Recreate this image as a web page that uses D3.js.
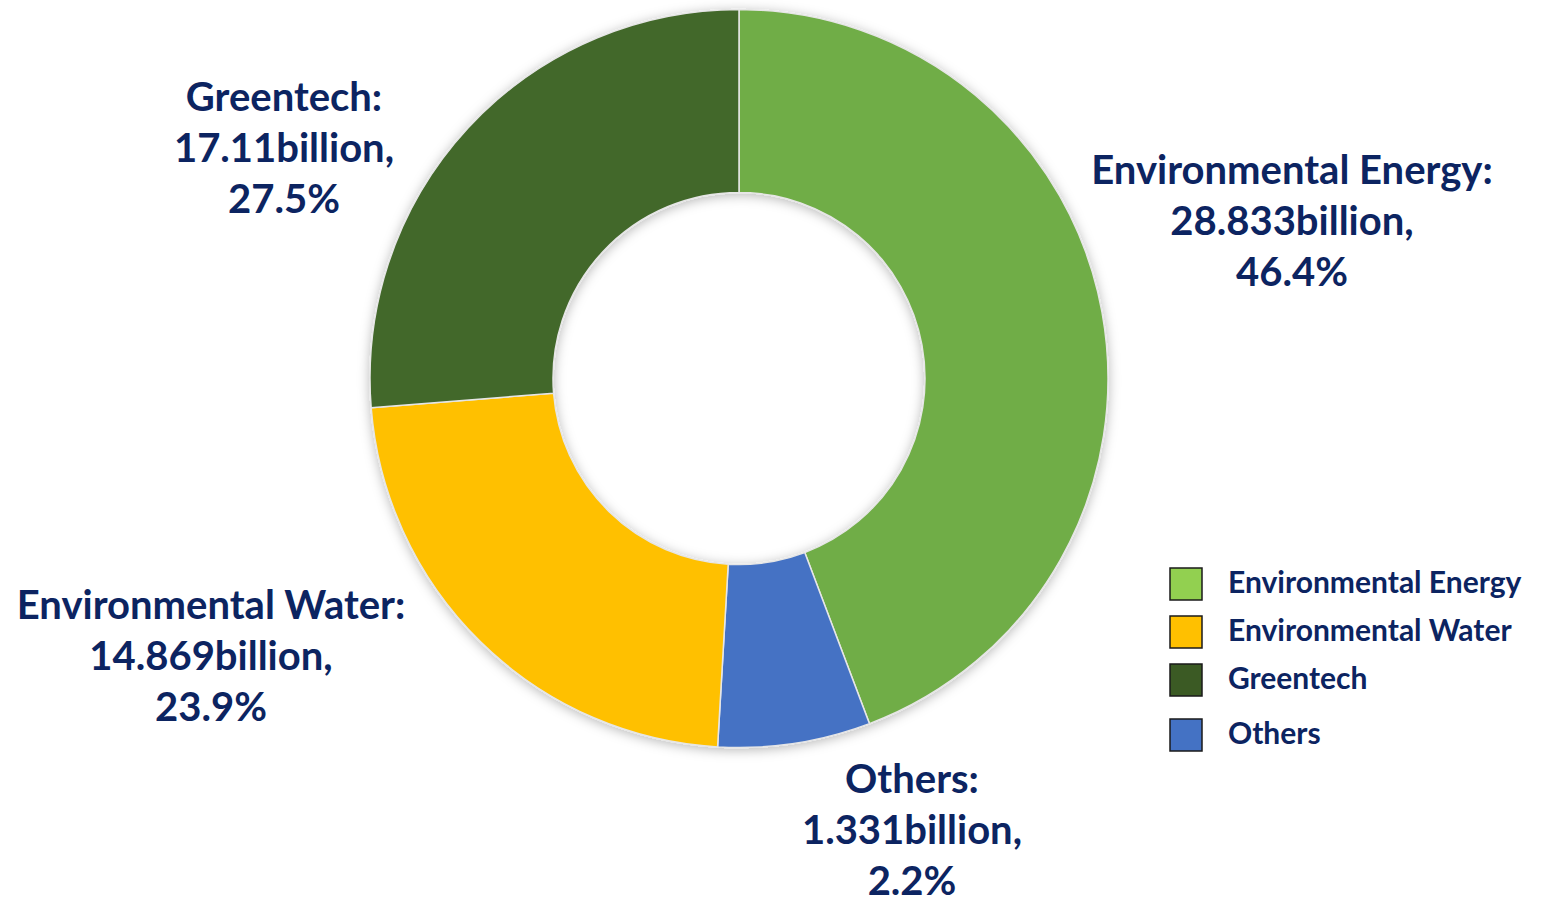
<!DOCTYPE html>
<html>
<head>
<meta charset="utf-8">
<script src="https://cdn.jsdelivr.net/npm/d3@7"></script>
<style>
  html, body { margin: 0; padding: 0; background: #fff; }
  svg { display: block; }
  text { font-family: Lato, "Open Sans", sans-serif; font-weight: 700; fill: #0c2461; }
</style>
</head>
<body>
<svg id="chart"></svg>
<script>
// slice order as drawn clockwise from 12 o'clock
const sliceNames = ["Environmental Energy", "Others", "Environmental Water", "Greentech"];
// slice sizes (billion)
const sliceValues = [28.833, 4.35, 14.869, 17.11];
const sliceColors = ["#70ad47", "#4472c4", "#ffc000", "#43682b"];

// label texts as printed on the chart
const labelAmounts = ["28.833billion,", "1.331billion,", "14.869billion,", "17.11billion,"];
const labelPercents = ["46.4%", "2.2%", "23.9%", "27.5%"];

// legend
const legendNames = ["Environmental Energy", "Environmental Water", "Greentech", "Others"];
const legendColors = ["#92d050", "#ffc000", "#3b5a24", "#4472c4"];

const width = 1546, height = 898;
const cx = 739, cy = 378.5;
const outerR = 369, innerR = 186;

// where each label block sits (centre x, first baseline)
const labelPos = {
    "Environmental Energy": [1292, 184],
    "Others": [912, 793],
    "Environmental Water": [211, 619],
    "Greentech": [284, 111]
};
const lineGap = 51;

const svg = d3.select("#chart")
    .attr("width", width)
    .attr("height", height);

const defs = svg.append("defs");
defs.append("filter")
    .attr("id", "shadow")
    .attr("x", "-20%").attr("y", "-20%")
    .attr("width", "140%").attr("height", "140%")
    .append("feDropShadow")
    .attr("dx", 0).attr("dy", 2)
    .attr("stdDeviation", 6)
    .attr("flood-color", "#000")
    .attr("flood-opacity", 0.28);

const data = sliceNames.map((name, i) => ({
    name: name,
    value: sliceValues[i],
    color: sliceColors[i],
    amount: labelAmounts[i],
    percent: labelPercents[i]
}));

const pie = d3.pie()
    .sort(null)
    .value(d => d.value);

const arc = d3.arc()
    .innerRadius(innerR)
    .outerRadius(outerR);

const ring = svg.append("g")
    .attr("transform", `translate(${cx},${cy})`)
    .attr("filter", "url(#shadow)");

ring.selectAll("path.slice")
    .data(pie(data))
    .join("path")
    .attr("class", "slice")
    .attr("d", arc)
    .attr("fill", d => d.data.color)
    .attr("stroke", "#e6e6e6")
    .attr("stroke-width", 1.5);

// Data labels
const labels = svg.append("g").attr("class", "labels");
data.forEach(d => {
    const [lx, ly] = labelPos[d.name];
    const t = labels.append("text")
        .attr("text-anchor", "middle")
        .attr("font-size", 40);
    [d.name + ":", d.amount, d.percent].forEach((line, i) => {
        t.append("tspan")
            .attr("x", lx)
            .attr("y", ly + i * lineGap)
            .text(line);
    });
});

// Legend
const legendTop = [568, 616, 664, 719];
const legend = svg.append("g").attr("class", "legend");
const rows = legend.selectAll("g")
    .data(legendNames)
    .join("g")
    .attr("transform", (d, i) => `translate(1170,${legendTop[i]})`);

rows.append("rect")
    .attr("width", 32)
    .attr("height", 32)
    .attr("fill", (d, i) => legendColors[i])
    .attr("stroke", "#1a1a1a")
    .attr("stroke-width", 1.5);

rows.append("text")
    .attr("x", 58)
    .attr("y", 25)
    .attr("font-size", 30)
    .text(d => d);
</script>
</body>
</html>
